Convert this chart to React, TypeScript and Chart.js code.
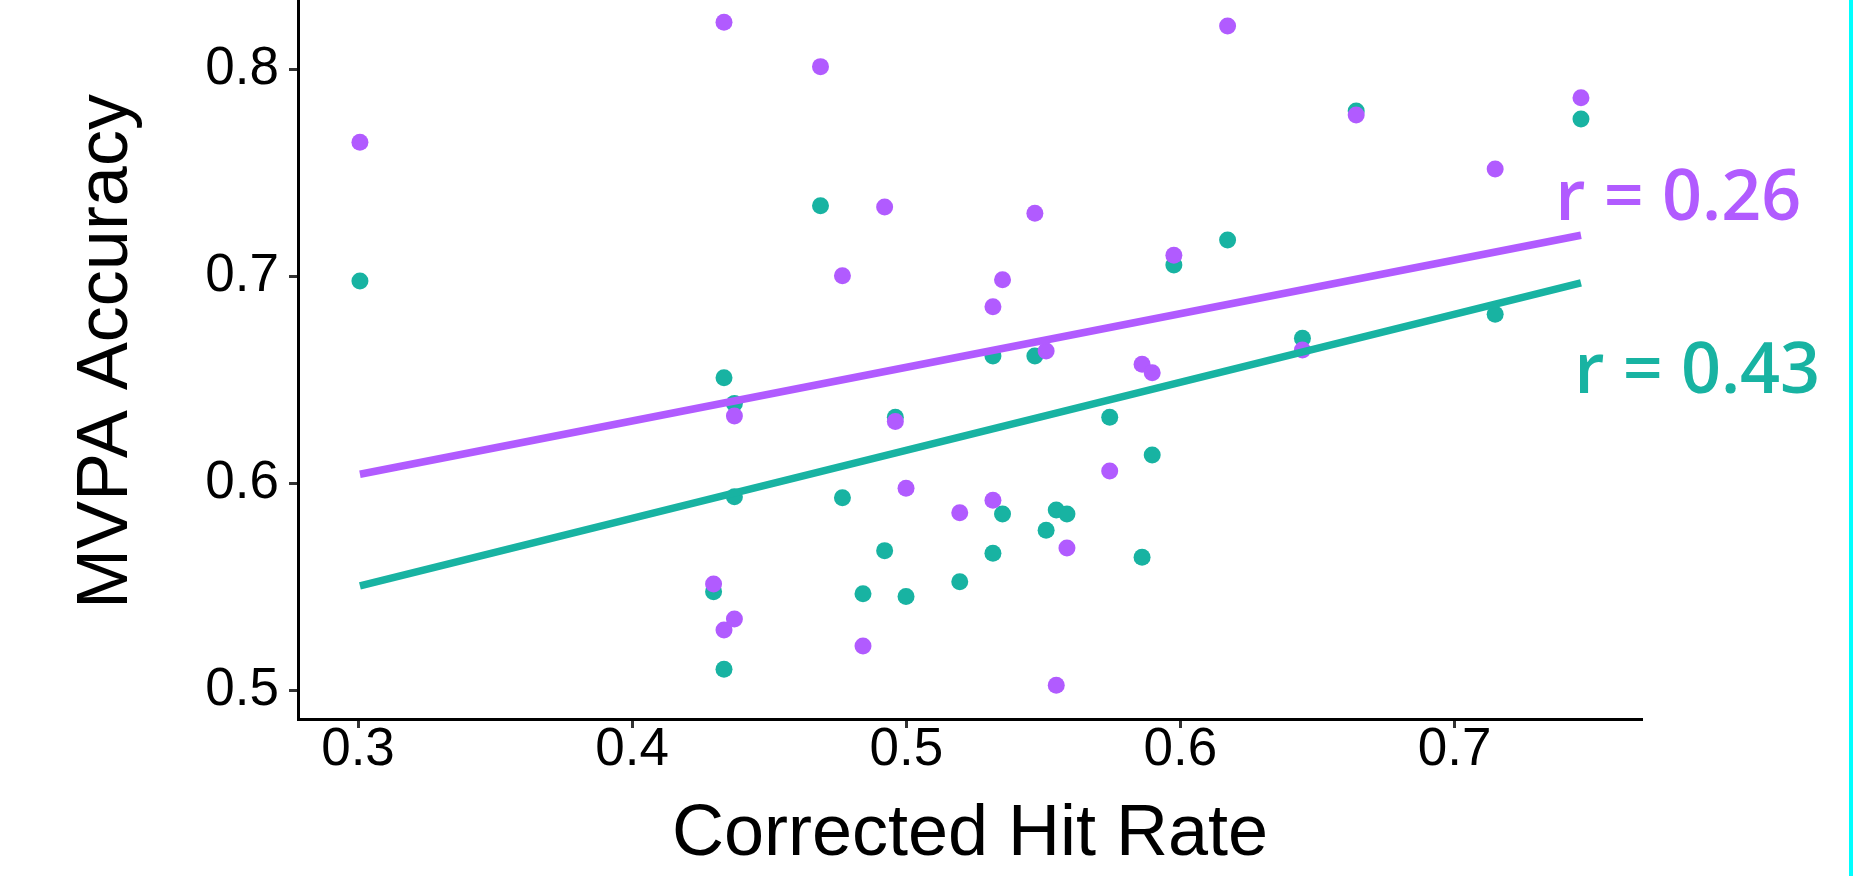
import React, { useEffect, useRef } from "react";
import { Chart, registerables } from "chart.js";

Chart.register(...registerables);

// ---- data ----
const hitRate = [
  0.3007, 0.4297, 0.4335, 0.4335, 0.4373, 0.4373, 0.4687, 0.4767, 0.4842, 0.4921,
  0.496, 0.4999, 0.5195, 0.5316, 0.5316, 0.5351, 0.5469, 0.551, 0.5547, 0.5586,
  0.5742, 0.586, 0.5897, 0.5976, 0.6172, 0.6445, 0.6641, 0.7148, 0.7461,
];
const tealAccuracy = [
  0.6978, 0.5478, 0.6511, 0.5103, 0.6387, 0.5936, 0.7341, 0.5931, 0.5468, 0.5676,
  0.632, 0.5455, 0.5526, 0.6616, 0.5663, 0.5853, 0.6616, 0.5774, 0.5872, 0.5853,
  0.632, 0.5644, 0.6138, 0.7055, 0.7176, 0.6701, 0.7799, 0.6817, 0.776,
];
const purpleAccuracy = [
  0.7648, 0.5515, 0.8227, 0.5293, 0.6326, 0.5346, 0.8013, 0.7003, 0.5215, 0.7335,
  0.63, 0.5977, 0.5859, 0.6854, 0.5919, 0.6984, 0.7305, 0.664, 0.5026, 0.5689,
  0.606, 0.6576, 0.6535, 0.7102, 0.8209, 0.6645, 0.7779, 0.7519, 0.7863,
];
const fitHitRate = [0.3007, 0.7461];
const tealFit = [0.5506, 0.6969];
const purpleFit = [0.6045, 0.7199];

const xTicks = [0.3, 0.4, 0.5, 0.6, 0.7];
const xTickLabels = ["0.3", "0.4", "0.5", "0.6", "0.7"];
const yTicks = [0.5, 0.6, 0.7, 0.8];
const yTickLabels = ["0.5", "0.6", "0.7", "0.8"];
const corrLabels = ["r = 0.26", "r = 0.43"];

// ---- layout / style ----
const X_RANGE = { min: 0.27811, max: 0.76836 };
const Y_RANGE = { min: 0.4863, max: 0.8412 };
const CORR_X = [0.7816, 0.7885];
const CORR_Y = [0.7272, 0.6438];
const PURPLE = "#B15BFF";
const TEAL = "#18B3A2";
const CORR_COLORS = [PURPLE, TEAL];
const FONT = "'Liberation Sans', Arial, Helvetica, sans-serif";

const corrPlugin = {
  id: "corrLabels",
  afterDatasetsDraw(chart: any) {
    const { ctx } = chart;
    const xs = chart.scales.x;
    const ys = chart.scales.y;
    ctx.save();
    ctx.font = "600 70px 'Open Sans', 'Noto Sans', sans-serif";
    ctx.textAlign = "center";
    ctx.textBaseline = "alphabetic";
    corrLabels.forEach((t, i) => {
      ctx.fillStyle = CORR_COLORS[i];
      ctx.fillText(t, xs.getPixelForValue(CORR_X[i]), ys.getPixelForValue(CORR_Y[i]));
    });
    ctx.restore();
  },
};

const zeroPad = (s: any) => {
  s.paddingLeft = 0;
  s.paddingRight = 0;
  s.paddingTop = 0;
  s.paddingBottom = 0;
};

export default function App() {
  const ref = useRef<HTMLCanvasElement>(null);

  useEffect(() => {
    document.body.style.overflow = "hidden";
    Chart.defaults.font.family = FONT;
    const chart = new Chart(ref.current as HTMLCanvasElement, {
      type: "scatter",
      data: {
        datasets: [
          {
            label: "purple fit",
            data: fitHitRate.map((x, i) => ({ x, y: purpleFit[i] })),
            showLine: true,
            borderColor: PURPLE,
            backgroundColor: PURPLE,
            borderWidth: 7.5,
            borderCapStyle: "butt",
            pointRadius: 0,
            order: 1,
          },
          {
            label: "teal fit",
            data: fitHitRate.map((x, i) => ({ x, y: tealFit[i] })),
            showLine: true,
            borderColor: TEAL,
            backgroundColor: TEAL,
            borderWidth: 7.5,
            borderCapStyle: "butt",
            pointRadius: 0,
            order: 2,
          },
          {
            label: "purple",
            data: hitRate.map((x, i) => ({ x, y: purpleAccuracy[i] })),
            backgroundColor: PURPLE,
            borderWidth: 0,
            pointBorderWidth: 0,
            pointRadius: 8.5,
            order: 3,
          },
          {
            label: "teal",
            data: hitRate.map((x, i) => ({ x, y: tealAccuracy[i] })),
            backgroundColor: TEAL,
            borderWidth: 0,
            pointBorderWidth: 0,
            pointRadius: 8.5,
            order: 4,
          },
        ],
      } as any,
      options: {
        animation: false,
        responsive: false,
        devicePixelRatio: 1,
        layout: { autoPadding: false, padding: { left: 0, top: 0, right: 218, bottom: 0 } },
        plugins: { legend: { display: false }, tooltip: { enabled: false } },
        events: [],
        scales: {
          x: {
            type: "linear",
            min: X_RANGE.min,
            max: X_RANGE.max,
            afterBuildTicks: (s: any) => {
              s.ticks = xTicks.map((v) => ({ value: v }));
            },
            afterFit: (s: any) => {
              s.height = 157;
              zeroPad(s);
            },
            border: { display: true, color: "#000", width: 3 },
            grid: {
              drawOnChartArea: false,
              drawTicks: true,
              tickLength: 9,
              tickWidth: 3,
              tickColor: "#333",
            },
            ticks: {
              autoSkip: false,
              maxRotation: 0,
              minRotation: 0,
              color: "#000",
              padding: -4.5,
              font: { family: FONT, size: 53, lineHeight: 1 },
              callback: (_v: any, i: number) => xTickLabels[i],
            },
            title: {
              display: true,
              text: "Corrected Hit Rate",
              color: "#000",
              font: { family: FONT, size: 72, lineHeight: 1 },
              padding: { top: 0, bottom: 5 },
            },
          },
          y: {
            type: "linear",
            min: Y_RANGE.min,
            max: Y_RANGE.max,
            afterBuildTicks: (s: any) => {
              s.ticks = yTicks.map((v) => ({ value: v }));
            },
            afterFit: (s: any) => {
              s.width = 298;
              zeroPad(s);
            },
            border: { display: true, color: "#000", width: 3 },
            grid: {
              drawOnChartArea: false,
              drawTicks: true,
              tickLength: 9,
              tickWidth: 3,
              tickColor: "#333",
            },
            ticks: {
              autoSkip: false,
              color: "#000",
              padding: 10,
              font: { family: FONT, size: 53, lineHeight: 1 },
              callback: (_v: any, i: number) => yTickLabels[i],
            },
            title: {
              display: true,
              text: "MVPA Accuracy",
              color: "#000",
              font: { family: FONT, size: 72, lineHeight: 1 },
              padding: { top: 71, bottom: 0 },
            },
          },
        },
      } as any,
      plugins: [corrPlugin],
    });
    return () => chart.destroy();
  }, []);

  return (
    <div>
      <canvas
        ref={ref}
        width={1860}
        height={892}
        style={{ position: "absolute", left: 0, top: -16, width: 1860, height: 892, display: "block" }}
      />
      <div
        style={{ position: "absolute", left: 1849, top: 0, width: 4, height: 876, background: "#00FFFF" }}
      />
    </div>
  );
}
